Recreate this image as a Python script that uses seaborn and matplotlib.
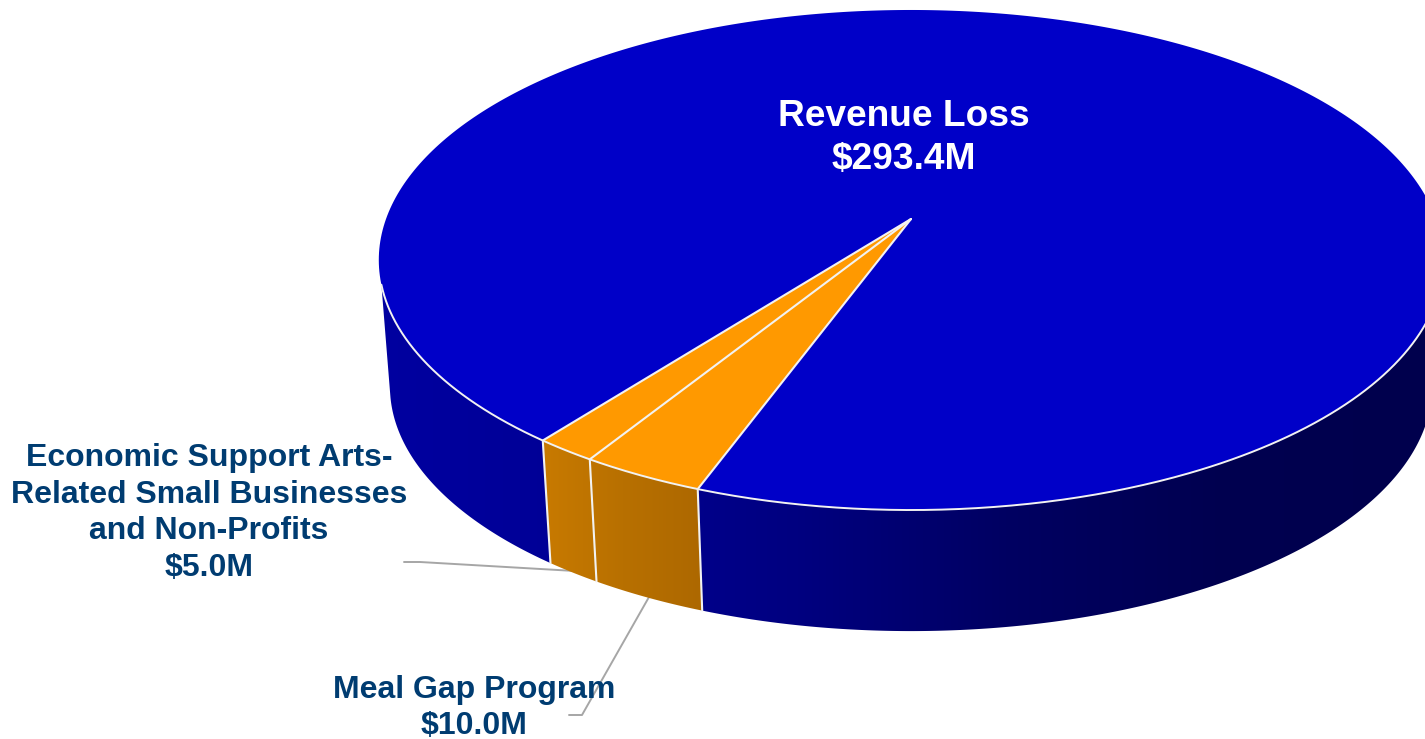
import numpy as np
import matplotlib
matplotlib.use('Agg')
import matplotlib.pyplot as plt
from matplotlib.patches import Polygon
import seaborn as sns

# Slices, in drawing order starting at the front of the pie
slice_names = ["Meal Gap Program", "Economic Support", "Revenue Loss"]
slice_values = [10.0, 5.0, 293.4]
start_angle = 110.1

sns.set_theme(style="white")
plt.rcParams['font.family'] = ['Liberation Sans', 'DejaVu Sans']

top_color = {"Meal Gap Program": "#FF9900", "Economic Support": "#FF9900", "Revenue Loss": "#0000C8"}
blue_side = sns.blend_palette(["#0000A0", "#000094", "#000080", "#000062", "#000050", "#00004D"], 256)
orange_side = sns.blend_palette(["#C87A00", "#B87000", "#AD6800"], 256)
rim_color = '#F2F2F2'

# Perspective projection of the unit circle, top and bottom of the disc
k = 0.164
x0 = 911


def project(t, y0=219, a=525, b=243.3):
    rad = np.radians(t)
    w = 1 - k * np.sin(rad)
    return x0 + a * np.cos(rad) / w, y0 + b * np.sin(rad) / w


def project_bottom(t):
    return project(t, y0=346.4, a=514, b=238)


fig, ax = plt.subplots(figsize=(14.25, 7.39), dpi=100)
fig.subplots_adjust(0, 0, 1, 1)
ax.axis('off')

edges = start_angle + np.cumsum([0] + slice_values) / np.sum(slice_values) * 360


def draw_wall(t1, t2, t3, t4, palette, x_left, x_right):
    # one stretch of the side wall, horizontal gradient clipped to its outline
    tx, ty = project(np.linspace(t1, t2, 300))
    bx, by = project_bottom(np.linspace(t3, t4, 300))
    outline = Polygon(np.column_stack([np.r_[tx, bx], np.r_[ty, by]]), closed=True, fc='none', ec='none')
    ax.add_patch(outline)
    shades = np.array(palette)[np.newaxis, :, :]
    img = ax.imshow(shades, extent=(x_left, x_right, 739, 0), aspect='auto', zorder=2, interpolation='bilinear')
    img.set_clip_path(outline)


draw_wall(5, edges[0], edges[0], 5, blue_side, 379, 1425)
draw_wall(edges[0], edges[2], edges[2], edges[0], orange_side, 543, 703)
draw_wall(edges[2], 165, 168, edges[2], blue_side, 379, 1425)
ax.set_xlim(0, 1425)
ax.set_ylim(739, 0)

# Top face
for name, t1, t2 in zip(slice_names, edges[:-1], edges[1:]):
    ts = np.linspace(t1, t2, 400)
    xs, ys = project(ts)
    ax.fill(np.r_[x0, xs], np.r_[219, ys], color=top_color[name], lw=0, zorder=3)

# White rim only along the front, plus the slice borders and wall dividers
rim_x, rim_y = project(np.linspace(5, 165, 400))
ax.plot(rim_x, rim_y, color=rim_color, lw=1.4, zorder=4)
for t in edges[:3]:
    x1, y1 = project(t)
    x2, y2 = project_bottom(t)
    ax.plot([x0, x1, x2], [219, y1, y2], color=rim_color, lw=1.5, zorder=4, solid_joinstyle='round')

# Leader lines
ax.plot([404, 420, 575], [562, 562, 571], color='#A6A6A6', lw=1.4, zorder=1)
ax.plot([569, 582, 649], [715, 715, 597], color='#A6A6A6', lw=1.4, zorder=1)

# Labels
navy = '#003C71'
ax.text(904, 138, "Revenue Loss\n$293.4M", color='white', fontsize=26.7, fontweight='bold',
        ha='center', va='center', linespacing=1.31, zorder=5)
ax.text(209, 513, "Economic Support Arts-\nRelated Small Businesses\nand Non-Profits\n$5.0M", color=navy,
        fontsize=23, fontweight='bold', ha='center', va='center', linespacing=1.29, zorder=5)
ax.text(474, 708, "Meal Gap Program\n$10.0M", color=navy, fontsize=23, fontweight='bold',
        ha='center', va='center', linespacing=1.27, zorder=5)

fig.savefig('out.png', dpi=100)
